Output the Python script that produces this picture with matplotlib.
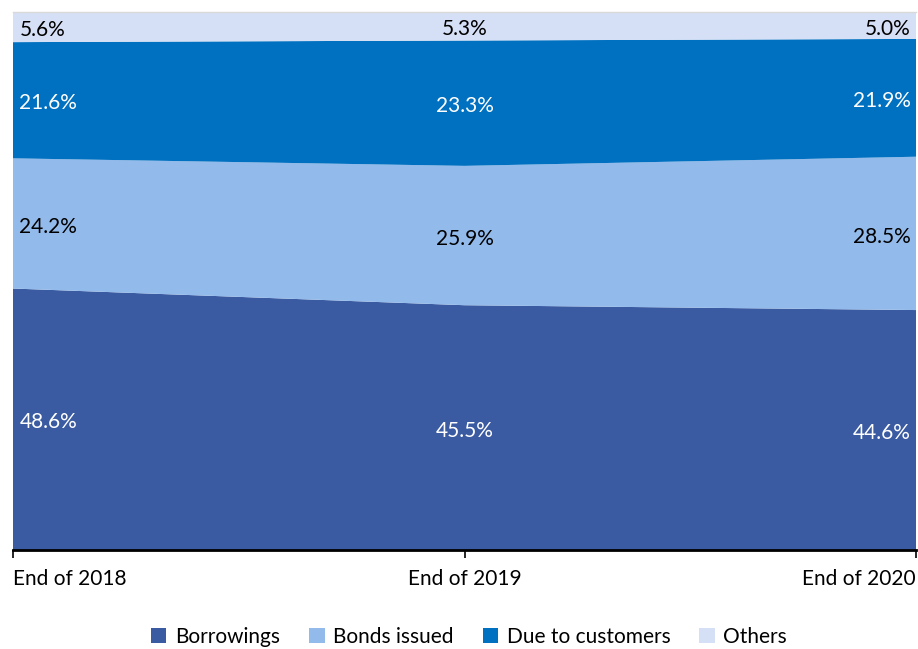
import matplotlib.pyplot as plt
from matplotlib.patches import Patch

plt.rcParams["font.family"] = ["Lato", "DejaVu Sans"]

periods = ["End of 2018", "End of 2019", "End of 2020"]
series = ["Borrowings", "Bonds issued", "Due to customers", "Others"]
borrowings = [48.6, 45.5, 44.6]
bonds_issued = [24.2, 25.9, 28.5]
due_to_customers = [21.6, 23.3, 21.9]
others = [5.6, 5.3, 5.0]

colors = ["#3A5BA2", "#92BAEA", "#0070C0", "#D5DFF5"]
text_colors = ["white", "black", "white", "black"]

fig = plt.figure(figsize=(9.18, 6.49), dpi=100)
ax = fig.add_axes([13 / 918, 1 - 550 / 649, 903 / 918, 538 / 649])

x = list(range(len(periods)))
layers = [borrowings, bonds_issued, due_to_customers, others]
ax.stackplot(x, layers, colors=colors, linewidth=0)

ax.set_xlim(0, len(periods) - 1)
ax.set_ylim(0, 100)

# value labels in the middle of each band, flush with the edges at the ends
aligns = ["left", "center", "right"]
offsets = [0.014, 0.0, -0.012]
for i in range(len(periods)):
    base = 0
    for layer, tc in zip(layers, text_colors):
        v = layer[i]
        ax.text(i + offsets[i], base + v / 2 - 0.6, f"{v:.1f}%", ha=aligns[i], va="center",
                fontsize=15, color=tc)
        base += v

ax.set_yticks([])
ax.set_xticks(x)
ax.set_xticklabels(periods, fontsize=15)
labels = ax.get_xticklabels()
labels[0].set_ha("left")
labels[-1].set_ha("right")
ax.tick_params(axis="x", direction="out", length=6, width=1.2, color="black", pad=8)
for side in ["left", "right"]:
    ax.spines[side].set_visible(False)
ax.spines["top"].set_color("#D9D9D9")
ax.spines["top"].set_linewidth(1)
ax.spines["bottom"].set_linewidth(2)
ax.spines["bottom"].set_color("black")

handles = [Patch(facecolor=c, edgecolor="none") for c in colors]
fig.legend(handles, series, loc="center", bbox_to_anchor=(469 / 918, 1 - 637 / 649),
           ncol=4, frameon=False, fontsize=15, handlelength=0.75, handleheight=0.75,
           handletextpad=0.4, columnspacing=1.4)

fig.savefig("out.png", dpi=100)
